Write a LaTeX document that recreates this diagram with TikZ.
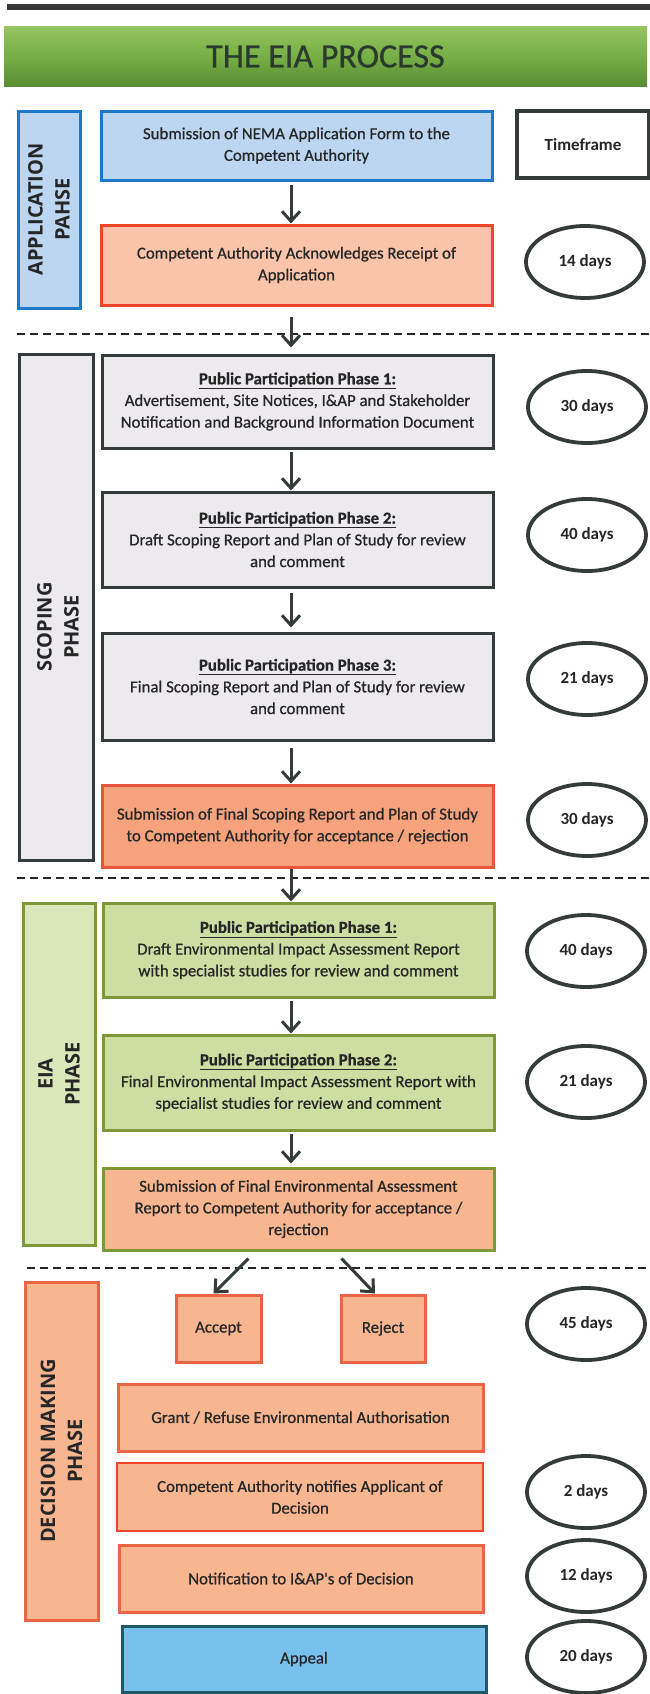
\documentclass[tikz,border=0pt]{standalone}
\usepackage{fontspec}
\setmainfont{Carlito}
\newfontfamily\boxfont{Carlito}[FakeBold=0.7]
\newfontfamily\sidefont{Open Sans}
\usetikzlibrary{arrows.meta,shapes.geometric}

\definecolor{txt}{HTML}{262626}
\definecolor{blueB}{HTML}{1E78C8}
\definecolor{blueF}{HTML}{BCD6F2}
\definecolor{redB}{HTML}{F0452A}
\definecolor{salF}{HTML}{F9C4A9}
\definecolor{dk}{HTML}{343B3B}
\definecolor{grayF}{HTML}{ECEAEF}
\definecolor{orF}{HTML}{F6A27C}
\definecolor{orB}{HTML}{E8553B}
\definecolor{olB}{HTML}{7E9838}
\definecolor{olF}{HTML}{CDDEA2}
\definecolor{olSide}{HTML}{D9E7BB}
\definecolor{salB}{HTML}{F8B690}
\definecolor{decB}{HTML}{EA6544}
\definecolor{apF}{HTML}{78C1EF}
\definecolor{apB}{HTML}{1F5866}
\definecolor{titleT}{HTML}{2A3A2C}
\definecolor{banTop}{HTML}{94C45E}
\definecolor{banMid}{HTML}{76AE45}
\definecolor{banBot}{HTML}{5A8E33}

\tikzset{
  box/.style={rectangle, line width=3pt, text=txt, align=center,
    font=\boxfont\fontsize{16.8}{21.7}\selectfont, inner sep=2pt},
  sidebox/.style={rectangle, line width=3pt, text=txt, align=center,
    font=\sidefont\bfseries\fontsize{20}{27}\selectfont, rotate=90, inner sep=2pt},
  sidetext/.style={text=txt, align=center, inner sep=0pt,
    font=\sidefont\bfseries\fontsize{20}{27}\selectfont, rotate=90},
  ell/.style={ellipse, draw=dk, line width=3.8pt, fill=white,
    minimum width=118pt, minimum height=72pt, inner sep=0pt,
    font=\bfseries\fontsize{17}{20}\selectfont, text=txt},
  arr/.style={draw=dk, line width=3pt, -{Straight Barb[length=10pt,width=18pt]}},
  dline/.style={draw=black!85, line width=2.5pt, dash pattern=on 8pt off 5pt},
  grayb/.style={box, draw=dk, fill=grayF},
  greenb/.style={box, draw=olB, fill=olF},
  decb/.style={box, draw=decB, fill=salB},
}
\newcommand{\hdr}[1]{\underline{\textbf{#1}}}

\begin{document}
\begin{tikzpicture}[x=1pt,y=-1pt]
\useasboundingbox (0,0) rectangle (650,1694);
\fill[white] (0,0) rectangle (650,1694);

% top bar and banner
\fill[black!78] (7,4) rectangle (650,10);
\node[rectangle, minimum width=643pt, minimum height=59pt, inner sep=0pt,
  top color=banTop, bottom color=banBot, middle color=banMid,
  text=titleT, font=\boxfont\fontsize{34}{36}\selectfont] (title) at (325.5,56.5) {THE EIA PROCESS};

% separators
\draw[dline] (17,334) -- (650,334);
\draw[dline] (17,878) -- (650,878);
\draw[dline] (27,1268) -- (650,1268);

\coordinate (ax) at (291,0);

% Application phase
\node[sidebox, draw=blueB, fill=blueF, minimum width=197pt, minimum height=62pt] (sa) at (49,209.5) {APPLICATION\\PAHSE};
\node[box, draw=blueB, fill=blueF, minimum width=391pt, minimum height=69pt] (b1) at (296.5,145.5)
  {Submission of NEMA Application Form to the\\Competent Authority};
\node[box, draw=dk, line width=3.8pt, fill=white, minimum width=132pt, minimum height=67pt,
  font=\bfseries\fontsize{17}{20}\selectfont] (tf) at (583,144.5) {Timeframe};
\node[box, draw=redB, fill=salF, minimum width=391pt, minimum height=80pt] (b2) at (296.5,265)
  {Competent Authority Acknowledges Receipt of\\Application};
\node[ell] (t1) at (585,262) {14 days};

% Scoping phase
\node[sidebox, draw=dk, fill=grayF, minimum width=506pt, minimum height=74pt] (ss) at (56,607) {};
\node[sidetext] (sst) at (58,627) {SCOPING\\PHASE};
\node[grayb, minimum width=391pt, minimum height=93pt] (s1) at (297.5,401.5)
  {\hdr{Public Participation Phase 1:}\\Advertisement, Site Notices, I\&AP and Stakeholder\\Notification and Background Information Document};
\node[grayb, minimum width=391pt, minimum height=95pt] (s2) at (297.5,539.5)
  {\hdr{Public Participation Phase 2:}\\Draft Scoping Report and Plan of Study for review\\and comment};
\node[grayb, minimum width=391pt, minimum height=107pt] (s3) at (297.5,686.5)
  {\hdr{Public Participation Phase 3:}\\Final Scoping Report and Plan of Study for review\\and comment};
\node[box, draw=orB, fill=orF, minimum width=391pt, minimum height=82pt] (s4) at (297.5,826)
  {Submission of Final Scoping Report and Plan of Study\\to Competent Authority for acceptance / rejection};
\node[ell] (t2) at (587,407) {30 days};
\node[ell] (t3) at (587,535) {40 days};
\node[ell] (t4) at (587,679) {21 days};
\node[ell] (t5) at (587,820) {30 days};

% EIA phase
\node[sidebox, draw=olB, fill=olSide, minimum width=342pt, minimum height=72pt] (se) at (59,1074) {EIA\\PHASE};
\node[greenb, minimum width=391pt, minimum height=94pt] (e1) at (298.5,950)
  {\hdr{Public Participation Phase 1:}\\Draft Environmental Impact Assessment Report\\with specialist studies for review and comment};
\node[greenb, minimum width=391pt, minimum height=95pt] (e2) at (298.5,1082.5)
  {\hdr{Public Participation Phase 2:}\\Final Environmental Impact Assessment Report with\\specialist studies for review and comment};
\node[box, draw=olB, fill=salB, minimum width=391pt, minimum height=82pt] (e3) at (298.5,1209)
  {Submission of Final Environmental Assessment\\Report to Competent Authority for acceptance /\\rejection};
\node[ell] (t6) at (586,951) {40 days};
\node[ell] (t7) at (586,1082) {21 days};

% Decision making phase
\node[sidebox, draw=decB, fill=salB, minimum width=338pt, minimum height=73pt] (sd) at (61.5,1451) {DECISION MAKING\\PHASE};
\node[decb, minimum width=85pt, minimum height=67pt] (acc) at (218.5,1328.5) {Accept};
\node[decb, minimum width=84pt, minimum height=67pt] (rej) at (383,1328.5) {Reject};
\node[decb, minimum width=365pt, minimum height=67pt] (grant) at (300.5,1417.5) {Grant / Refuse Environmental Authorisation};
\node[box, draw=redB, line width=2pt, fill=salB, minimum width=366pt, minimum height=68pt] (notif) at (300,1497)
  {Competent Authority notifies Applicant of\\Decision};
\node[decb, minimum width=364pt, minimum height=67pt] (notiap) at (301,1578.5) {Notification to I\&AP's of Decision};
\node[box, draw=apB, fill=apF, minimum width=364pt, minimum height=66pt] (appeal) at (304,1659) {Appeal};
\node[ell] (t8) at (586,1324) {45 days};
\node[ell] (t9) at (586,1492) {2 days};
\node[ell] (t10) at (586,1576) {12 days};
\node[ell] (t11) at (586,1657) {20 days};

% connectors
\draw[arr, shorten <=3pt] (b1.south -| ax) -- (b2.north -| ax);
\draw[arr, shorten <=10pt, shorten >=6pt] (b2.south -| ax) -- (s1.north -| ax);
\draw[arr, shorten <=2pt] (s1.south -| ax) -- (s2.north -| ax);
\draw[arr, shorten <=4pt, shorten >=4pt] (s2.south -| ax) -- (s3.north -| ax);
\draw[arr, shorten <=6pt] (s3.south -| ax) -- (s4.north -| ax);
\draw[arr] (s4.south -| ax) -- (e1.north -| ax);
\draw[arr, shorten <=2pt] (e1.south -| ax) -- (e2.north -| ax);
\draw[arr, shorten <=2pt, shorten >=3pt] (e2.south -| ax) -- (e3.north -| ax);
\draw[arr] ([xshift=-50pt,yshift=-7pt]e3.south) -- ([xshift=-5pt]acc.north);
\draw[arr] ([xshift=43pt,yshift=-7pt]e3.south) -- ([xshift=-8pt]rej.north);
\end{tikzpicture}
\end{document}
